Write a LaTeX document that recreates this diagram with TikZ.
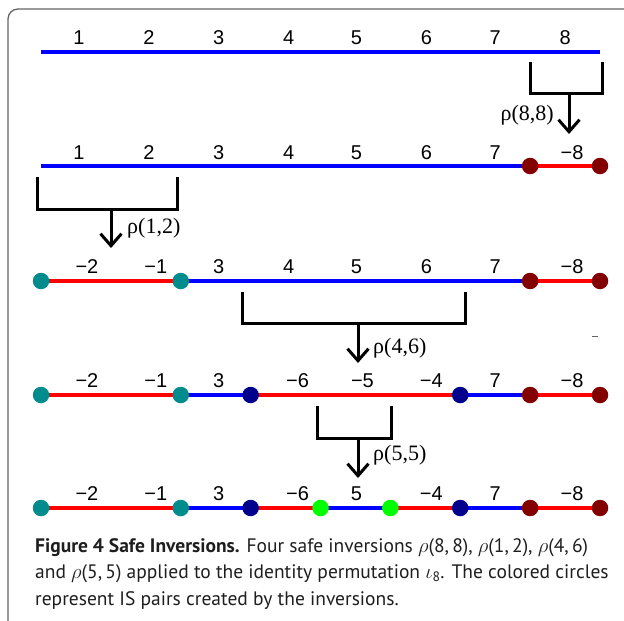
\documentclass[tikz,border=0pt]{standalone}
\usepackage{fontspec}
\setmainfont{Liberation Serif}
\newfontfamily\labfont{Liberation Sans}
\newfontfamily\capfont{PT Sans}
\usetikzlibrary{arrows.meta}
\definecolor{myblue}{RGB}{0,0,255}
\definecolor{myred}{RGB}{255,0,0}
\definecolor{myteal}{RGB}{0,140,140}
\definecolor{mydarkred}{RGB}{130,0,0}
\definecolor{mynavy}{RGB}{0,0,140}
\definecolor{mygreen}{RGB}{0,255,0}
\definecolor{framegray}{RGB}{100,100,100}
\definecolor{captext}{RGB}{30,30,30}
\tikzset{
  seg/.style={line width=4pt},
  dot/.style={circle, inner sep=0pt, minimum size=16.5pt, draw=none},
  numlab/.style={font=\labfont\fontsize{20}{20}\selectfont, inner sep=0pt},
  bracket/.style={line width=3pt, line join=miter},
  flip/.style={line width=3pt, -{Straight Barb[length=12pt,width=21pt]}},
  rholab/.style={font=\fontsize{22}{22}\selectfont, inner sep=0pt},
  capline/.style={font=\capfont\fontsize{19.5}{22}\selectfont, text=captext, inner sep=0pt, anchor=base west}
}
\begin{document}
\begin{tikzpicture}[x=1pt,y=-1pt]
\useasboundingbox (0,0) rectangle (624,621);
% frame
\draw[framegray, line width=1.3pt, rounded corners=10pt] (8,621) -- (8,9) -- (624,9);
% coordinates
\foreach \r/\y in {1/52,2/166,3/281,4/395,5/508}{
  \foreach \i in {0,...,8}{
    \coordinate (p\r-\i) at ({41+69.875*\i},\y);
    \coordinate (m\r-\i) at ({41+69.875*(\i-0.5)},\y);
  }
}
% row 1
\foreach \i [evaluate=\i as \j using int(\i-1)] in {1,...,8}
  \draw[seg, myblue] (p1-\j) -- (p1-\i);
% row 2
\foreach \i/\c [evaluate=\i as \j using int(\i-1)] in {1/myblue,2/myblue,3/myblue,4/myblue,5/myblue,6/myblue,7/myblue,8/myred}
  \draw[seg, \c] (p2-\j) -- (p2-\i);
% row 3
\foreach \i/\c [evaluate=\i as \j using int(\i-1)] in {1/myred,2/myred,3/myblue,4/myblue,5/myblue,6/myblue,7/myblue,8/myred}
  \draw[seg, \c] (p3-\j) -- (p3-\i);
% row 4
\foreach \i/\c [evaluate=\i as \j using int(\i-1)] in {1/myred,2/myred,3/myblue,4/myred,5/myred,6/myred,7/myblue,8/myred}
  \draw[seg, \c] (p4-\j) -- (p4-\i);
% row 5
\foreach \i/\c [evaluate=\i as \j using int(\i-1)] in {1/myred,2/myred,3/myblue,4/myred,5/myblue,6/myred,7/myblue,8/myred}
  \draw[seg, \c] (p5-\j) -- (p5-\i);
% labels
\foreach \i/\t/\dx in {1/1/3,2/2/3,3/3/3,4/4/3,5/5/1,6/6/1,7/7/0,8/8/0}
  \node[numlab] (l1-\i) at ([shift={(\dx,-14)}]m1-\i) {\t};
\foreach \i/\t/\dx in {1/1/3,2/2/3,3/3/3,4/4/3,5/5/1,6/6/1,7/7/0,8/−8/7}
  \node[numlab] (l2-\i) at ([shift={(\dx,-13.5)}]m2-\i) {\t};
\foreach \i/\t/\dx in {1/−2/11,2/−1/10,3/3/3,4/4/3,5/5/1,6/6/1,7/7/0,8/−8/7}
  \node[numlab] (l3-\i) at ([shift={(\dx,-14)}]m3-\i) {\t};
\foreach \i/\t/\dx in {1/−2/11,2/−1/10,3/3/3,4/−6/12,5/−5/7,6/−4/6,7/7/0,8/−8/7}
  \node[numlab] (l4-\i) at ([shift={(\dx,-14)}]m4-\i) {\t};
\foreach \i/\t/\dx in {1/−2/11,2/−1/10,3/3/3,4/−6/12,5/5/1,6/−4/6,7/7/0,8/−8/7}
  \node[numlab] (l5-\i) at ([shift={(\dx,-14)}]m5-\i) {\t};
% circles
\node[dot, fill=mydarkred] (c2-7) at (p2-7) {};
\node[dot, fill=mydarkred] (c2-8) at (p2-8) {};
\foreach \r in {3,4,5}{
  \node[dot, fill=myteal] (c\r-0) at (p\r-0) {};
  \node[dot, fill=myteal] (c\r-2) at (p\r-2) {};
  \node[dot, fill=mydarkred] (c\r-7) at (p\r-7) {};
  \node[dot, fill=mydarkred] (c\r-8) at (p\r-8) {};
}
\foreach \r in {4,5}{
  \node[dot, fill=mynavy] (c\r-3) at (p\r-3) {};
  \node[dot, fill=mynavy] (c\r-6) at (p\r-6) {};
}
\node[dot, fill=mygreen] (c5-4) at (p5-4) {};
\node[dot, fill=mygreen] (c5-5) at (p5-5) {};
% bracket 1: rho(8,8)
\coordinate (b1a) at (530,62); \coordinate (b1b) at (530,93);
\coordinate (b1c) at (602,93); \coordinate (b1d) at (602,62);
\draw[bracket] (b1a) -- (b1b) -- (b1c) -- (b1d);
\coordinate (a1s) at (569,93); \coordinate (a1e) at (569,134);
\draw[flip] (a1s) -- (a1e);
\node[rholab, anchor=east] (r1) at (554,115) {ρ(8,8)};
% bracket 2: rho(1,2)
\coordinate (b2a) at (37,177); \coordinate (b2b) at (37,209);
\coordinate (b2c) at (177,209); \coordinate (b2d) at (177,177);
\draw[bracket] (b2a) -- (b2b) -- (b2c) -- (b2d);
\coordinate (a2s) at (111,209); \coordinate (a2e) at (111,248);
\draw[flip] (a2s) -- (a2e);
\node[rholab, anchor=west] (r2) at (127,228) {ρ(1,2)};
% bracket 3: rho(4,6)
\coordinate (b3a) at (242,292); \coordinate (b3b) at (242,323);
\coordinate (b3c) at (465,323); \coordinate (b3d) at (465,292);
\draw[bracket] (b3a) -- (b3b) -- (b3c) -- (b3d);
\coordinate (a3s) at (358,323); \coordinate (a3e) at (358,363);
\draw[flip] (a3s) -- (a3e);
\node[rholab, anchor=west] (r3) at (373,348) {ρ(4,6)};
% bracket 4: rho(5,5)
\coordinate (b4a) at (317,406); \coordinate (b4b) at (317,438);
\coordinate (b4c) at (391,438); \coordinate (b4d) at (391,406);
\draw[bracket] (b4a) -- (b4b) -- (b4c) -- (b4d);
\coordinate (a4s) at (358,438); \coordinate (a4e) at (358,478);
\draw[flip] (a4s) -- (a4e);
\node[rholab, anchor=west] (r4) at (373,455) {ρ(5,5)};
% stray dash
\draw[framegray, line width=1pt] (592,336) -- (598,336);
% caption
\node[capline] (cap1) at (35,552) {\textbf{Figure 4 Safe Inversions.} Four safe inversions $\rho$(8,\,8), $\rho$(1,\,2), $\rho$(4,\,6)};
\node[capline] (cap2) at (35,578.5) {and $\rho$(5,\,5) applied to the identity permutation $\iota$\textsubscript{8}. The colored circles};
\node[capline] (cap3) at (35,605) {represent IS pairs created by the inversions.};
\end{tikzpicture}
\end{document}
